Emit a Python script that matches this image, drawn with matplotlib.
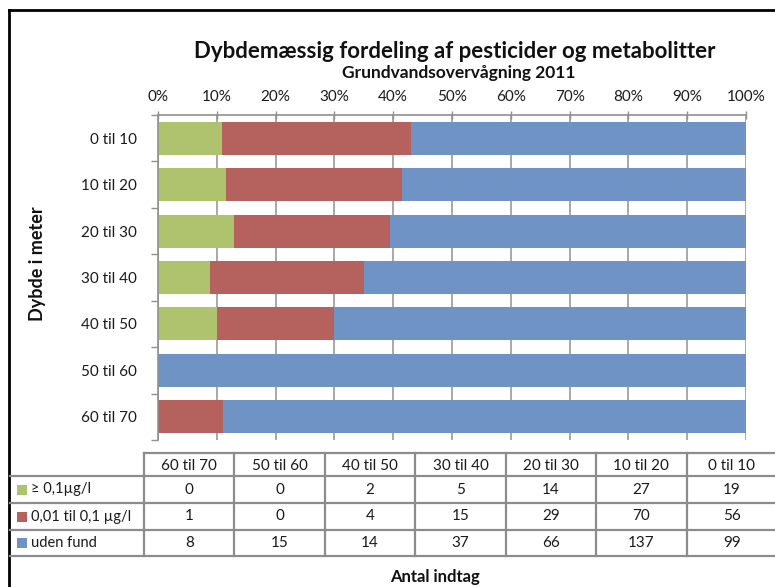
import matplotlib
matplotlib.use("Agg")
import matplotlib.pyplot as plt
import numpy as np

plt.rcParams['font.family'] = ['Lato', 'DejaVu Sans']

# Depth intervals (table column order) and intake counts per class
categories = ["60 til 70", "50 til 60", "40 til 50", "30 til 40", "20 til 30", "10 til 20", "0 til 10"]
series_names = ["≥ 0,1µg/l", "0,01 til 0,1 µg/l", "uden fund"]
above_01 = [0, 0, 2, 5, 14, 27, 19]
between = [1, 0, 4, 15, 29, 70, 56]
no_find = [8, 15, 14, 37, 66, 137, 99]
series_values = [above_01, between, no_find]
colors = ["#AFC36E", "#B5625E", "#7093C6"]
x_ticks = [0, 10, 20, 30, 40, 50, 60, 70, 80, 90, 100]
x_tick_labels = [f"{t}%" for t in x_ticks]

title = "Dybdemæssig fordeling af pesticider og metabolitter"
subtitle = "Grundvandsovervågning 2011"
ylabel = "Dybde i meter"
table_title = "Antal indtag"

W, H = 775, 587
fig = plt.figure(figsize=(W / 100, H / 100), dpi=100)

# pixel-space overlay for frame, titles and the data table
ov = fig.add_axes([0, 0, 1, 1], zorder=0)
ov.set_xlim(0, W)
ov.set_ylim(H, 0)
ov.axis("off")

# main stacked percentage bar chart
ax_l, ax_r, ax_t, ax_b = 158, 746, 115, 440
ax = fig.add_axes([ax_l / W, 1 - ax_b / H, (ax_r - ax_l) / W, (ax_b - ax_t) / H], zorder=1)
ax.patch.set_alpha(0)

vals = np.array(series_values, dtype=float)
totals = vals.sum(axis=0)
pct = vals / totals * 100
ypos = np.arange(len(categories))
left = np.zeros(len(categories))
for i in range(len(series_names)):
    ax.barh(ypos, pct[i], left=left, height=0.71, color=colors[i], zorder=2, linewidth=0)
    left += pct[i]

txt_c = "#1a1a1a"
ax.set_xlim(0, 100)
ax.set_ylim(-0.5, len(categories) - 0.5)
ax.xaxis.tick_top()
ax.set_xticks(x_ticks)
ax.set_xticklabels(x_tick_labels, fontsize=11, color=txt_c)
ax.tick_params(axis="x", direction="inout", length=6, width=1, color="#909090", pad=5)
ax.grid(axis="x", color="#9a9a9a", linewidth=1.2, zorder=1)
ax.set_yticks(ypos)
ax.set_yticklabels(categories, fontsize=11, color=txt_c)
ax.set_yticks(np.arange(-0.5, len(categories)), minor=True)
ax.tick_params(axis="y", which="major", length=0, pad=15)
ax.tick_params(axis="y", which="minor", length=5, width=1, color="#909090")
for s in ["right", "bottom"]:
    ax.spines[s].set_visible(False)
for s in ["left", "top"]:
    ax.spines[s].set_color("#909090")
    ax.spines[s].set_linewidth(1.2)

# y-axis title
ov.text(38, 264, ylabel, ha="center", va="center", rotation=90, fontsize=13, fontweight="bold", color="#111111")

# outer frame
ov.plot([9, 9], [10, H], color="black", lw=2)
ov.plot([9, W], [10, 10], color="black", lw=2)

# titles
ov.text(455, 52, title, ha="center", va="center", fontsize=16, fontweight="bold", color="#111111")
ov.text(459, 73, subtitle, ha="center", va="center", fontsize=12.5, fontweight="bold", color="#111111")

# data table
col_x = np.linspace(144, 777, len(categories) + 1)
row_y = [453, 476, 503, 530, 556]
grid_c = "#8c8c8c"
lw = 1.6
ov.plot([col_x[0], W], [row_y[0], row_y[0]], color=grid_c, lw=lw)
for y in row_y[1:]:
    ov.plot([10, W], [y, y], color=grid_c, lw=lw)
for x in col_x[:-1]:
    ov.plot([x, x], [row_y[0], row_y[-1]], color=grid_c, lw=lw)
for j, cat in enumerate(categories):
    cx = (col_x[j] + col_x[j + 1]) / 2
    ov.text(cx, (row_y[0] + row_y[1]) / 2 + 1, cat, ha="center", va="center", fontsize=11, color=txt_c)
for i, name in enumerate(series_names):
    cy = (row_y[i + 1] + row_y[i + 2]) / 2
    ov.add_patch(plt.Rectangle((17, cy - 5), 10, 10, color=colors[i], lw=0))
    ov.text(31, cy, name, ha="left", va="center", fontsize=10.5, color=txt_c)
    for j in range(len(categories)):
        cx = (col_x[j] + col_x[j + 1]) / 2
        ov.text(cx, cy, str(series_values[i][j]), ha="center", va="center", fontsize=11, color=txt_c)

ov.text(435, 577, table_title, ha="center", va="center", fontsize=12, fontweight="bold", color="#111111")

fig.savefig("out.png", dpi=100)
